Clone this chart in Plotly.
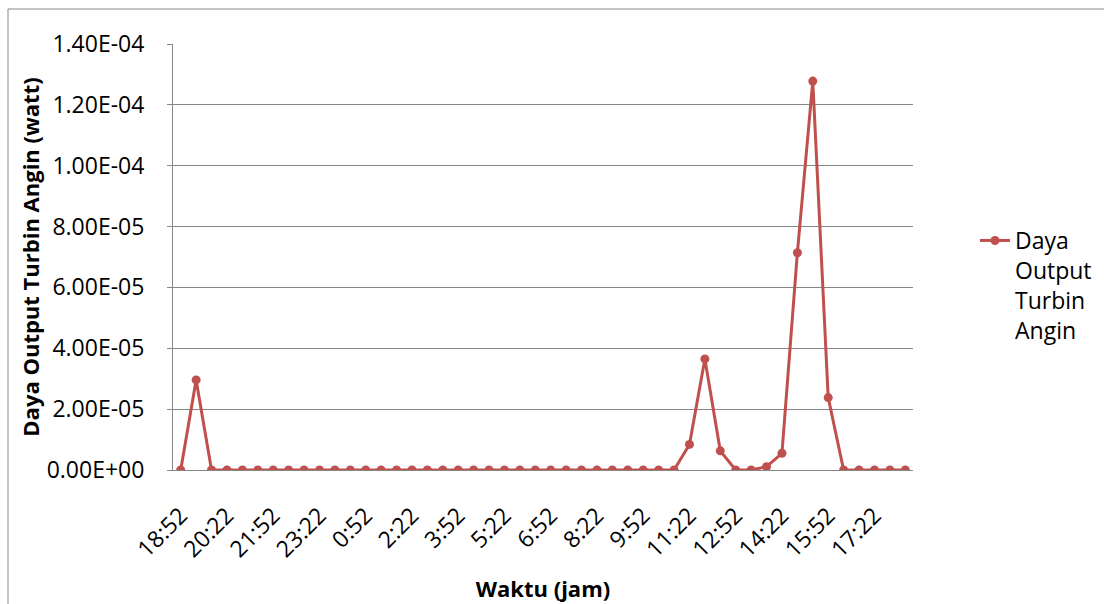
import plotly.graph_objects as go

times = ["18:52", "19:22", "19:52", "20:22", "20:52", "21:22", "21:52", "22:22",
         "22:52", "23:22", "23:52", "0:22", "0:52", "1:22", "1:52", "2:22",
         "2:52", "3:22", "3:52", "4:22", "4:52", "5:22", "5:52", "6:22",
         "6:52", "7:22", "7:52", "8:22", "8:52", "9:22", "9:52", "10:22",
         "10:52", "11:22", "11:52", "12:22", "12:52", "13:22", "13:52", "14:22",
         "14:52", "15:22", "15:52", "16:22", "16:52", "17:22", "17:52", "18:22"]

daya = [0, 2.96e-5, 0, 0, 0, 0, 0, 0,
        0, 0, 0, 0, 0, 0, 0, 0,
        0, 0, 0, 0, 0, 0, 0, 0,
        0, 0, 0, 0, 0, 0, 0, 0,
        0, 8.4e-6, 3.65e-5, 6.3e-6, 0, 0, 1.1e-6, 5.5e-6,
        7.14e-5, 1.278e-4, 2.38e-5, 0, 0, 0, 0, 0]

x_tick_labels = ["18:52", "20:22", "21:52", "23:22", "0:52", "2:22", "3:52", "5:22",
                 "6:52", "8:22", "9:52", "11:22", "12:52", "14:22", "15:52", "17:22"]

y_ticks = [0, 2e-5, 4e-5, 6e-5, 8e-5, 1e-4, 1.2e-4, 1.4e-4]
y_tick_labels = ["0.00E+00", "2.00E-05", "4.00E-05", "6.00E-05",
                 "8.00E-05", "1.00E-04", "1.20E-04", "1.40E-04"]

series_name = "Daya<br>Output<br>Turbin<br>Angin"

FONT = "Open Sans"
RED = "#C0504D"
GRID = "#868686"
TICK_SIZE = 23
TITLE_SIZE = 22

fig = go.Figure()
fig.add_trace(go.Scatter(
    x=times, y=daya, mode="lines+markers", name=series_name,
    line=dict(color=RED, width=3),
    marker=dict(color=RED, size=9),
))

L, R, T, B = 173, 191, 44, 134
W, H = 1104, 604
pw, ph = W - L - R, H - T - B

fig.update_layout(
    width=W, height=H,
    margin=dict(l=L, r=R, t=T, b=B, autoexpand=False),
    paper_bgcolor="white", plot_bgcolor="white",
    font=dict(family=FONT, size=TICK_SIZE, color="black"),
    showlegend=True,
    legend=dict(
        xref="container", yref="container",
        x=975 / W, y=(H - 219) / H, xanchor="left", yanchor="top",
        font=dict(family=FONT, size=TICK_SIZE, color="black"),
        valign="top", bgcolor="rgba(0,0,0,0)",
    ),
    xaxis=dict(
        type="category",
        categoryorder="array", categoryarray=times,
        tickmode="array", tickvals=x_tick_labels, ticktext=x_tick_labels,
        tickangle=-45, tickfont=dict(family=FONT, size=TICK_SIZE, color="black"),
        ticklabelstandoff=22,
        showgrid=False, showline=True, linecolor=GRID, linewidth=1,
        ticks="", range=[-0.5, len(times) - 0.5],
        title=dict(text="<b>Waktu (jam)</b>", font=dict(family=FONT, size=TITLE_SIZE, color="black"), standoff=18),
        automargin=False, zeroline=False,
    ),
    yaxis=dict(
        range=[0, 1.4e-4],
        tickmode="array", tickvals=y_ticks, ticktext=y_tick_labels,
        tickfont=dict(family=FONT, size=TICK_SIZE, color="black"),
        ticklabelstandoff=18,
        showgrid=True, gridcolor=GRID, gridwidth=1,
        showline=True, linecolor=GRID, linewidth=1,
        ticks="outside", ticklen=5, tickcolor=GRID,
        title=dict(text="<b>Daya Output Turbin Angin (watt)</b>", font=dict(family=FONT, size=TITLE_SIZE, color="black"), standoff=0),
        automargin=False, zeroline=False,
    ),
    shapes=[dict(
        type="rect", xref="paper", yref="paper",
        x0=(8 - L) / pw, x1=(W + 20 - L) / pw,
        y0=(470 - (H + 20)) / ph, y1=(470 - 9) / ph,
        line=dict(color="#888888", width=1), fillcolor="rgba(0,0,0,0)", layer="below",
    )],
)

fig.write_html("out.html")
